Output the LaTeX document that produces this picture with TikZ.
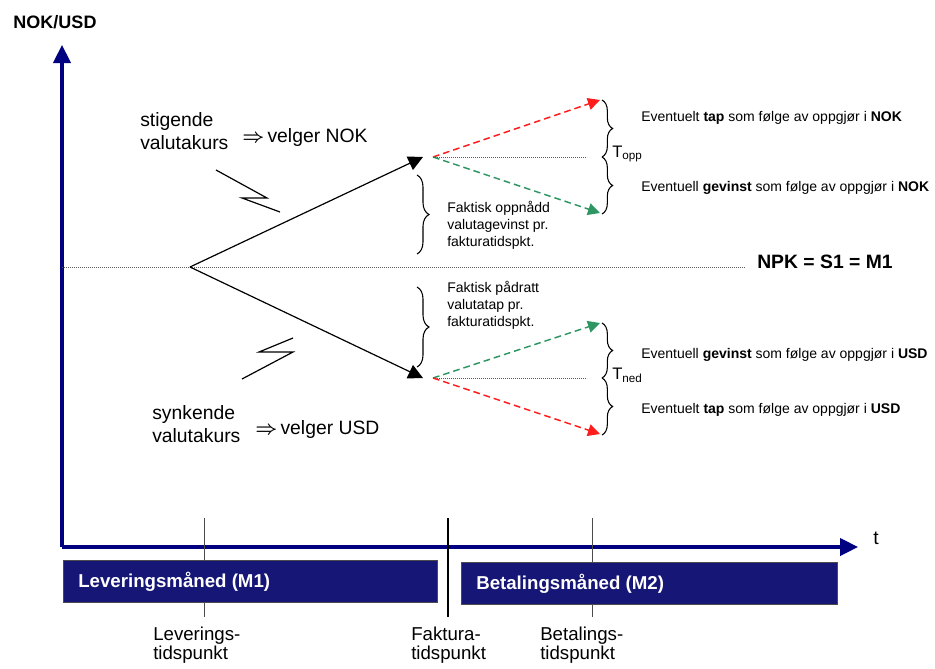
\documentclass[tikz,border=0pt]{standalone}
\usepackage{fontspec}
\setmainfont{Liberation Sans}
\usetikzlibrary{arrows.meta,decorations.pathreplacing}
\definecolor{axisnavy}{RGB}{0,0,128}
\definecolor{boxnavy}{RGB}{22,22,118}
\definecolor{lossred}{RGB}{255,28,28}
\definecolor{gaingreen}{RGB}{46,150,98}
\newcommand{\implarrow}{{\boldmath$\Rightarrow$}}
\begin{document}
\begin{tikzpicture}[x=0.75pt,y=-0.75pt,
  axis/.style={draw=axisnavy,line width=2.4pt,-{Triangle[length=13.5pt,width=13pt]}},
  fan/.style={line width=0.9pt,-{Triangle[length=11pt,width=11pt]}},
  risk/.style={dash pattern=on 5pt off 3pt,line width=1.1pt,-{Triangle[length=9pt,width=9pt]}},
  level/.style={dash pattern=on 0.7pt off 0.8pt,line width=0.6pt,gray!70!black},
  bolt/.style={line width=0.9pt,line join=miter},
  rbrace/.style={decorate,decoration={brace,amplitude=#1},line width=0.8pt},
  small/.style={font=\fontsize{10.5}{12.8}\selectfont,inner sep=0pt},
  big/.style={font=\fontsize{14.5}{17.2}\selectfont,inner sep=0pt},
  month/.style={fill=boxnavy,draw=gray!60!black,line width=0.4pt},
  monthtxt/.style={font=\bfseries\fontsize{14}{16}\selectfont,text=white,inner sep=0pt,anchor=west},
  tick/.style={line width=0.6pt,gray!60!black},
  lbl/.style={font=\fontsize{14}{14.5}\selectfont,align=left,inner sep=0pt,anchor=west}]
\useasboundingbox (0,0) rectangle (935,668);

% axes
\coordinate (orig) at (62,547);
\coordinate (ytop) at (62,45);
\coordinate (xend) at (858,547);
\draw[axis] (orig) -- (ytop);
\draw[axis] (orig) -- (xend);
\node[font=\bfseries\fontsize{13.5}{15}\selectfont,inner sep=0pt] (ylab) at (55,22) {NOK/USD};
\node[big] (tlab) at (876,538) {t};

% reference level
\coordinate (lvlA) at (62,267);
\coordinate (lvlB) at (745,267);
\draw[level] (lvlA) -- (lvlB);
\node[big,font=\bfseries\fontsize{14.5}{17}\selectfont,anchor=west] (npk) at (757,262) {NPK = S1 = M1};

% branching of the exchange rate
\coordinate (O) at (190,267);
\coordinate (up) at (423,157);
\coordinate (dn) at (423,378);
\draw[fan] (O) -- (up);
\draw[fan] (O) -- (dn);

% lightning strokes
\coordinate (z1) at (216,170); \coordinate (z2) at (267,198);
\coordinate (z3) at (242,198); \coordinate (z4) at (280,212);
\draw[bolt] (z1) -- (z2) -- (z3) -- (z4);
\coordinate (w1) at (293,338); \coordinate (w2) at (259,352);
\coordinate (w3) at (293,352); \coordinate (w4) at (242,379);
\draw[bolt] (w1) -- (w2) -- (w3) -- (w4);

% labels of the two scenarios
\node[big,align=left,anchor=west] (stig) at (140,131) {stigende\\valutakurs};
\node[big,anchor=west] (vnok) at (242,137) {\implarrow\,velger NOK};
\node[big,align=left,anchor=west] (synk) at (152,424) {synkende\\valutakurs};
\node[big,anchor=west] (vusd) at (255,429) {\implarrow\,velger USD};

% realised gain / loss at invoicing
\coordinate (b1a) at (417,175); \coordinate (b1b) at (417,254);
\draw[rbrace=9pt] (b1a) -- (b1b);
\node[small,align=left,anchor=west] (gain) at (447,225) {Faktisk oppnådd\\valutagevinst pr.\\fakturatidspkt.};
\coordinate (b2a) at (417,287); \coordinate (b2b) at (417,367);
\draw[rbrace=9pt] (b2a) -- (b2b);
\node[small,align=left,anchor=west] (loss) at (447,305) {Faktisk pådratt\\valutatap pr.\\fakturatidspkt.};

% upper fan: outcome at payment
\coordinate (F1) at (433,157);
\coordinate (F1r) at (600,100);
\coordinate (F1g) at (600,213);
\coordinate (F1e) at (587,157);
\draw[risk,lossred] (F1) -- (F1r);
\draw[risk,gaingreen] (F1) -- (F1g);
\draw[level] (F1) -- (F1e);
\coordinate (t1a) at (602,100); \coordinate (t1m) at (602,157); \coordinate (t1b) at (602,214);
\draw[rbrace=8pt] (t1a) -- (t1m);
\draw[rbrace=8pt] (t1m) -- (t1b);
\node[font=\fontsize{12.5}{14}\selectfont,inner sep=0pt,anchor=west] (topp) at (612,154) {T\textsubscript{opp}};
\node[small,anchor=west] (e1) at (641,118) {Eventuelt \textbf{tap} som følge av oppgjør i \textbf{NOK}};
\node[small,anchor=west] (e2) at (641,188) {Eventuell \textbf{gevinst} som følge av oppgjør i \textbf{NOK}};

% lower fan: outcome at payment
\coordinate (F2) at (433,378);
\coordinate (F2g) at (600,323);
\coordinate (F2r) at (600,434);
\coordinate (F2e) at (587,378);
\draw[risk,gaingreen] (F2) -- (F2g);
\draw[risk,lossred] (F2) -- (F2r);
\draw[level] (F2) -- (F2e);
\coordinate (t2a) at (602,323); \coordinate (t2m) at (602,378); \coordinate (t2b) at (602,435);
\draw[rbrace=8pt] (t2a) -- (t2m);
\draw[rbrace=8pt] (t2m) -- (t2b);
\node[font=\fontsize{12.5}{14}\selectfont,inner sep=0pt,anchor=west] (tned) at (612,375) {T\textsubscript{ned}};
\node[small,anchor=west] (e3) at (641,355) {Eventuell \textbf{gevinst} som følge av oppgjør i \textbf{USD}};
\node[small,anchor=west] (e4) at (641,410) {Eventuelt \textbf{tap} som følge av oppgjør i \textbf{USD}};

% time markers
\coordinate (m1a) at (204,518); \coordinate (m1b) at (204,617);
\coordinate (m2a) at (448,518); \coordinate (m2b) at (448,617);
\coordinate (m3a) at (592,518); \coordinate (m3b) at (592,617);
\draw[tick] (m1a) -- (m1b);
\draw[line width=1.3pt] (m2a) -- (m2b);
\draw[tick] (m3a) -- (m3b);

% month bars
\draw[month] (63,560) rectangle (437,602);
\node[monthtxt] (lev) at (78,582) {Leveringsmåned (M1)};
\draw[month] (461,562) rectangle (837,604);
\node[monthtxt] (bet) at (476,584) {Betalingsmåned (M2)};

% time point labels
\node[lbl] (tp1) at (153,645) {Leverings-\\tidspunkt};
\node[lbl] (tp2) at (411,645) {Faktura-\\tidspunkt};
\node[lbl] (tp3) at (540,645) {Betalings-\\tidspunkt};
\end{tikzpicture}
\end{document}
